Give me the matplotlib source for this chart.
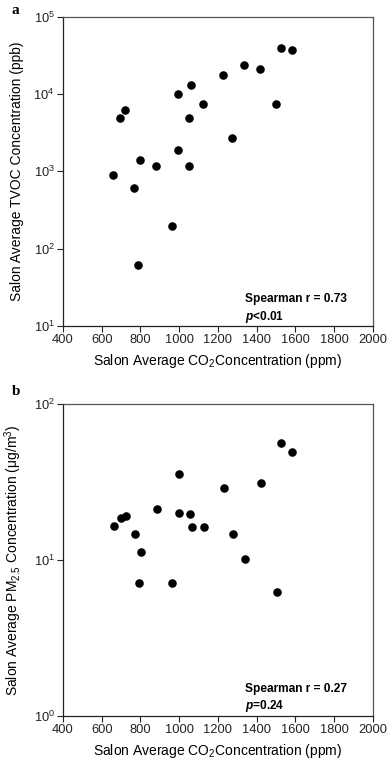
import matplotlib
matplotlib.use("Agg")
import matplotlib.pyplot as plt
from matplotlib.ticker import FixedLocator, FixedFormatter, NullLocator

plt.rcParams['font.family'] = ['Liberation Sans', 'DejaVu Sans']
plt.rcParams['mathtext.fontset'] = 'custom'
plt.rcParams['mathtext.rm'] = 'Liberation Sans'
plt.rcParams['mathtext.it'] = 'Liberation Sans:italic:bold'
plt.rcParams['mathtext.bf'] = 'Liberation Sans:bold'

# Panel a: CO2 vs TVOC
co2_a = [657, 696, 720, 767, 798, 879, 993, 993, 1061, 1053, 1053, 1125, 1228, 1275,
         1335, 1420, 1502, 1525, 1583, 965, 786]
tvoc = [888, 4900, 6300, 615, 1390, 1185, 10000, 1890, 13200, 4900, 1160, 7500, 17500, 2670,
        23500, 20900, 7500, 38900, 37000, 199, 61]

# Panel b: CO2 vs PM2.5
co2_b = [662, 700, 724, 770, 801, 791, 965, 884, 998, 998, 1058, 1067, 1130, 1232, 1278,
         1340, 1423, 1528, 1585, 1507]
pm25 = [16.5, 18.5, 19.2, 14.6, 11.2, 7.1, 7.1, 21.3, 35.5, 19.9, 19.7, 16.2, 16.2, 29.0, 14.7,
        10.1, 31.1, 56.2, 49.4, 6.2]

x_ticks = [400, 600, 800, 1000, 1200, 1400, 1600, 1800, 2000]
x_ticklabels = [str(v) for v in x_ticks]
ya_ticks = [10, 100, 1000, 10000, 100000]
ya_ticklabels = ['10$^{1}$', '10$^{2}$', '10$^{3}$', '10$^{4}$', '10$^{5}$']
yb_ticks = [1, 10, 100]
yb_ticklabels = ['10$^{0}$', '10$^{1}$', '10$^{2}$']

fig = plt.figure(figsize=(3.88, 7.65), dpi=100)
ax_a = fig.add_axes([0.1624, 0.5739, 0.7982, 0.4043])
ax_b = fig.add_axes([0.1624, 0.0645, 0.7982, 0.4070])

def style(ax, yticks, ylabels, ylim):
    ax.set_yscale('log')
    ax.set_xlim(400, 2000)
    ax.set_ylim(*ylim)
    ax.xaxis.set_major_locator(FixedLocator(x_ticks))
    ax.xaxis.set_major_formatter(FixedFormatter(x_ticklabels))
    ax.yaxis.set_major_locator(FixedLocator(yticks))
    ax.yaxis.set_major_formatter(FixedFormatter(ylabels))
    ax.yaxis.set_minor_locator(NullLocator())
    ax.tick_params(axis='both', direction='out', length=4, width=0.8, labelsize=9.3, pad=2, colors='#222222')
    for s in ax.spines.values():
        s.set_color('#555555')
        s.set_linewidth(0.9)
    ax.spines['left'].set_color('#222222')
    ax.spines['bottom'].set_color('#222222')

ax_a.scatter(co2_a, tvoc, s=38, color='black', zorder=3, linewidths=0)
style(ax_a, ya_ticks, ya_ticklabels, (10, 100000))
ax_a.set_xlabel('Salon Average CO$_2$Concentration (ppm)', fontsize=10, labelpad=4)
ax_a.set_ylabel('Salon Average TVOC Concentration (ppb)', fontsize=10, labelpad=7)
ax_a.text(0.587, 0.087, 'Spearman r = 0.73', transform=ax_a.transAxes, fontsize=8.6, fontweight='bold', va='center')
ax_a.text(0.587, 0.030, '$p$<0.01', transform=ax_a.transAxes, fontsize=8.6, fontweight='bold', va='center')
fig.text(12 / 388, 1 - 10 / 765, 'a', fontsize=11, fontweight='bold', family='Liberation Serif', va='center', ha='left')

ax_b.scatter(co2_b, pm25, s=38, color='black', zorder=3, linewidths=0)
style(ax_b, yb_ticks, yb_ticklabels, (1, 100))
ax_b.set_xlabel('Salon Average CO$_2$Concentration (ppm)', fontsize=10, labelpad=4)
ax_b.set_ylabel('Salon Average PM$_{2.5}$ Concentration (\u03bcg/m$^3$)', fontsize=10, labelpad=7)
ax_b.text(0.587, 0.087, 'Spearman r = 0.27', transform=ax_b.transAxes, fontsize=8.6, fontweight='bold', va='center')
ax_b.text(0.587, 0.030, '$p$=0.24', transform=ax_b.transAxes, fontsize=8.6, fontweight='bold', va='center')
fig.text(12 / 388, 1 - 392 / 765, 'b', fontsize=11, fontweight='bold', family='Liberation Serif', va='center', ha='left')

fig.savefig('out.png', dpi=100)
